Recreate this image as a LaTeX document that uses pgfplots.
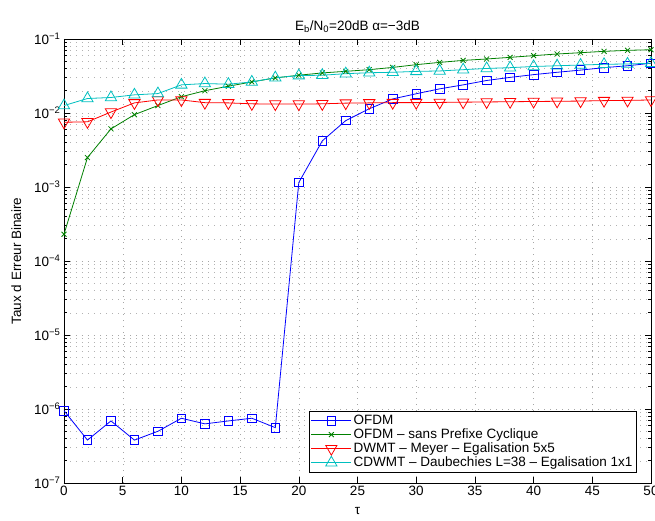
\documentclass[border=0pt]{standalone}
\usepackage{fontspec}
\setmainfont{Liberation Sans}
\usepackage{pgfplots}
\pgfplotsset{compat=1.18}
\usetikzlibrary{calc}
\definecolor{mgreen}{rgb}{0,0.5,0}
\definecolor{mcyan}{rgb}{0,0.75,0.75}
\newcommand{\ff}{\fontsize{13.5pt}{16pt}\selectfont}
\begin{document}
\begin{tikzpicture}[font=\ff]
\begin{axis}[
  scale only axis, width=587pt, height=444pt,
  ymode=log, xmin=0, xmax=50, ymin=1e-7, ymax=1e-1,
  xtick={0,5,...,50}, minor x tick num=0,
  ytick={1e-7,1e-6,1e-5,1e-4,1e-3,1e-2,1e-1},
  yticklabels={10\textsuperscript{−7},10\textsuperscript{−6},10\textsuperscript{−5},10\textsuperscript{−4},10\textsuperscript{−3},10\textsuperscript{−2},10\textsuperscript{−1}},
  /pgf/number format/assume math mode=true,
  every tick label/.append style={font=\ff},
  xmajorgrids, ymajorgrids, yminorgrids,
  major grid style={black!35, dash pattern=on 1pt off 5pt},
  minor grid style={black!30, dash pattern=on 1pt off 5pt},
  tick align=inside, major tick length=6pt, minor tick length=3pt,
  tick style={black, line width=0.5pt},
  axis line style={line width=0.6pt},
  title={E\textsubscript{b}/N\textsubscript{0}=20dB α=−3dB},
  title style={font=\ff, yshift=-3pt},
  xlabel={τ}, ylabel={Taux d Erreur Binaire},
  label style={font=\ff},
  xlabel style={yshift=-4pt}, ylabel style={yshift=6pt},
  legend style={at={(rel axis cs:0.976,0.023)}, anchor=south east, draw=black, line width=0.8pt, font=\fontsize{13.5pt}{14pt}\selectfont, row sep=-1.2pt, inner sep=2pt},
  legend cell align=left,
  legend image code/.code={\draw[mark repeat=2,mark phase=2] plot coordinates {(0pt,0pt) (20pt,0pt) (40pt,0pt)};},
]
\addplot[blue, line width=0.8pt, mark=square, mark size=4.3pt, mark options={solid}] coordinates {
(0,9.5e-7)(2,3.8e-7)(4,6.9e-7)(6,3.8e-7)(8,5.0e-7)(10,7.5e-7)(12,6.3e-7)(14,6.9e-7)(16,7.5e-7)(18,5.6e-7)(20,1.15e-3)(22,4.2e-3)(24,7.9e-3)(26,1.14e-2)(28,1.55e-2)(30,1.82e-2)(32,2.12e-2)(34,2.4e-2)(36,2.75e-2)(38,3.03e-2)(40,3.3e-2)(42,3.55e-2)(44,3.8e-2)(46,4.1e-2)(48,4.35e-2)(50,4.7e-2)};
\addlegendentry{OFDM}
\addplot[mgreen, line width=0.8pt, mark=x, mark size=3.5pt] coordinates {
(0,2.3e-4)(2,2.5e-3)(4,6.1e-3)(6,9.5e-3)(8,1.26e-2)(10,1.66e-2)(12,2.0e-2)(14,2.3e-2)(16,2.63e-2)(18,2.98e-2)(20,3.24e-2)(22,3.48e-2)(24,3.66e-2)(26,3.85e-2)(28,4.13e-2)(30,4.5e-2)(32,4.83e-2)(34,5.14e-2)(36,5.37e-2)(38,5.65e-2)(40,5.96e-2)(42,6.27e-2)(44,6.53e-2)(46,6.81e-2)(48,7.03e-2)(50,7.16e-2)};
\addlegendentry{OFDM – sans Prefixe Cyclique}
\addplot[red, line width=0.8pt, mark=triangle, mark size=6.5pt, mark options={rotate=180}] coordinates {
(0,7.5e-3)(2,7.6e-3)(4,1.03e-2)(6,1.37e-2)(8,1.5e-2)(10,1.5e-2)(12,1.38e-2)(14,1.37e-2)(16,1.33e-2)(18,1.32e-2)(20,1.32e-2)(22,1.33e-2)(24,1.36e-2)(26,1.37e-2)(28,1.38e-2)(30,1.38e-2)(32,1.39e-2)(34,1.40e-2)(36,1.41e-2)(38,1.42e-2)(40,1.43e-2)(42,1.44e-2)(44,1.45e-2)(46,1.47e-2)(48,1.48e-2)(50,1.5e-2)};
\addlegendentry{DWMT – Meyer – Egalisation 5x5}
\addplot[mcyan, line width=0.8pt, mark=triangle, mark size=6.5pt] coordinates {
(0,1.26e-2)(2,1.57e-2)(4,1.62e-2)(6,1.76e-2)(8,1.83e-2)(10,2.4e-2)(12,2.5e-2)(14,2.45e-2)(16,2.63e-2)(18,3.0e-2)(20,3.2e-2)(22,3.24e-2)(24,3.4e-2)(26,3.5e-2)(28,3.55e-2)(30,3.65e-2)(32,3.7e-2)(34,3.85e-2)(36,4.0e-2)(38,4.1e-2)(40,4.25e-2)(42,4.35e-2)(44,4.45e-2)(46,4.55e-2)(48,4.6e-2)(50,4.7e-2)};
\addlegendentry{CDWMT – Daubechies L=38 – Egalisation 1x1}
\end{axis}
\pgfresetboundingbox
\path ($(current axis.south west)+(-64pt,-38pt)$) rectangle ($(current axis.north east)+(4pt,39pt)$);
\end{tikzpicture}
\end{document}
